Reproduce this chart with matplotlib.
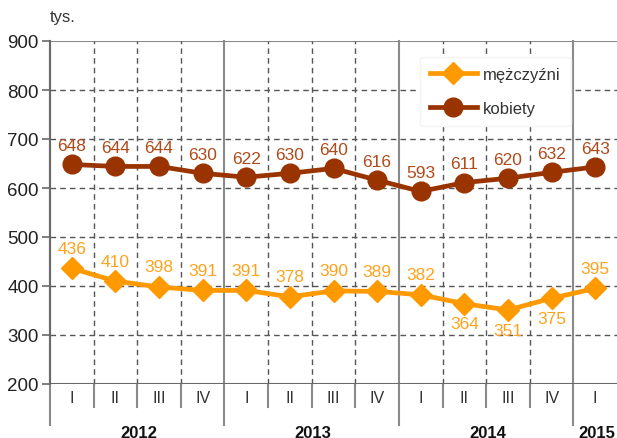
import matplotlib
matplotlib.use("Agg")
import matplotlib.pyplot as plt
from matplotlib.transforms import blended_transform_factory

plt.rcParams['font.family'] = ['Liberation Sans', 'DejaVu Sans']

quarters = ["I", "II", "III", "IV", "I", "II", "III", "IV", "I", "II", "III", "IV", "I"]
years = ["2012", "2013", "2014", "2015"]
year_spans = [(0, 3), (4, 7), (8, 11), (12, 12)]
men = [436, 410, 398, 391, 391, 378, 390, 389, 382, 364, 351, 375, 395]
women = [648, 644, 644, 630, 622, 630, 640, 616, 593, 611, 620, 632, 643]
men_below = [False, False, False, False, False, False, False, False, False, True, True, True, False]
yticks = [200, 300, 400, 500, 600, 700, 800, 900]

orange = '#FF9900'
orange_txt = '#FFA31F'
brown = '#993300'
brown_txt = '#B04A1A'
grid_c = '#555555'
solid_c = '#8A8A8A'

fig = plt.figure(figsize=(6.17, 4.39), dpi=100)
ax = fig.add_axes([50/617, 1-385/439, 567/617, 343/439])
n = len(quarters)
x = list(range(n))
ax.set_xlim(-0.5, n-0.5)
ax.set_ylim(200, 900)

for s in ['top', 'right', 'left', 'bottom']:
    ax.spines[s].set_visible(False)

# horizontal grid
for yv in yticks[1:-1]:
    ax.axhline(yv, color=grid_c, lw=1, ls=(0, (4, 3)), zorder=1)
ax.axhline(900, color=solid_c, lw=1.5, zorder=1)
ax.axhline(200, color='#6a6a6a', lw=1.5, zorder=3)

# vertical lines
trans = blended_transform_factory(ax.transData, ax.transAxes)
bounds = [s for s, e in year_spans]
for i in range(n):
    xv = i - 0.5
    if i in bounds:
        ax.plot([xv, xv], [-0.12, 1.0], color=solid_c, lw=1.5, transform=trans,
                clip_on=False, zorder=2)
    else:
        ax.plot([xv, xv], [0, 1.0], color=grid_c, lw=1, ls=(0, (4, 3)),
                transform=trans, clip_on=False, zorder=1)
        ax.plot([xv, xv], [-0.068, 0], color=solid_c, lw=1.5, transform=trans,
                clip_on=False, zorder=2)

ax.set_xticks([])
ax.set_yticks(yticks)
ax.set_yticklabels([str(v) for v in yticks], fontsize=13.5, color='#222222')
ax.tick_params(axis='y', length=6, width=1.2, color='#6a6a6a', pad=2)
ax.plot([-0.5, -0.5], [0, 1], color='#6a6a6a', lw=1.5, transform=trans, clip_on=False, zorder=3)

for i, q in enumerate(quarters):
    ax.text(i, -0.038, q, transform=trans, ha='center', va='center', fontsize=11.5, color='#333333')
for yl, (s, e) in zip(years, year_spans):
    ax.text((s+e)/2 + 0.03, -0.14, yl, transform=trans, ha='center', va='center',
            fontsize=12, fontweight='bold', color='#111111')

ax.text(-0.5, 1.07, "tys.", transform=trans, ha='left', va='center', fontsize=12, color='#333333')

ax.plot(x, men, color=orange, lw=3.4, marker='D', markersize=11.5, zorder=5, label='mężczyźni')
ax.plot(x, women, color=brown, lw=3.4, marker='o', markersize=13.5, zorder=5, label='kobiety')

for i in range(n):
    ax.annotate(str(women[i]), (i, women[i]), xytext=(0, 8), textcoords='offset points',
                ha='center', va='bottom', fontsize=12.5, color=brown_txt, zorder=6)
    if men_below[i]:
        ax.annotate(str(men[i]), (i, men[i]), xytext=(0, -9), textcoords='offset points',
                    ha='center', va='top', fontsize=12.5, color=orange_txt, zorder=6)
    else:
        ax.annotate(str(men[i]), (i, men[i]), xytext=(0, 9), textcoords='offset points',
                    ha='center', va='bottom', fontsize=12.5, color=orange_txt, zorder=6)

leg = ax.legend(loc='upper left', bbox_to_anchor=(370/567, 1-16/343), frameon=True,
                fancybox=True, fontsize=12, handlelength=2.8, labelspacing=1.15,
                borderpad=0.6, handletextpad=0.4, borderaxespad=0)
leg.get_frame().set_facecolor('white')
leg.get_frame().set_edgecolor('#f4f4f4')
leg.get_frame().set_alpha(1)
leg.set_zorder(4)
for t in leg.get_texts():
    t.set_color('#333333')

fig.savefig('out.png', dpi=100)
